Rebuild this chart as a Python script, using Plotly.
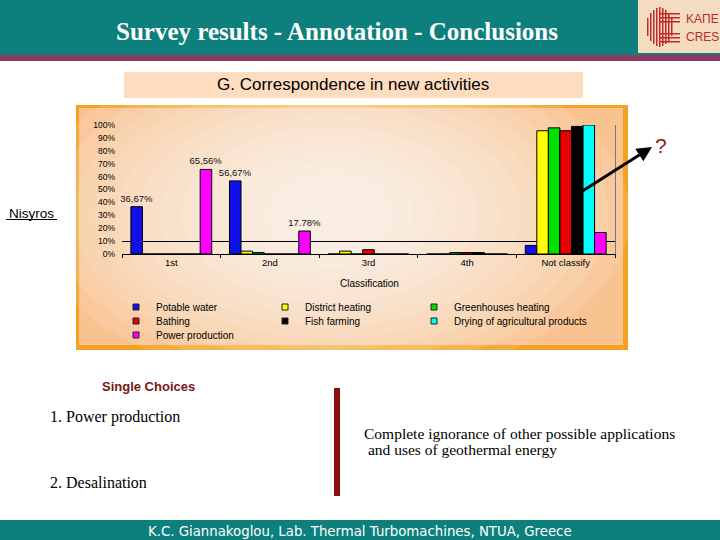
import plotly.graph_objects as go

# ---------------- data ----------------
categories = ["1st", "2nd", "3rd", "4th", "Not classify"]
series_names = ["Potable water", "District heating", "Greenhouses heating",
                "Bathing", "Fish farming", "Drying of agricultural products",
                "Power production"]
potable_water = [36.67, 56.67, 0, 0, 6.67]
district_heating = [0, 2.22, 2.22, 0, 95.56]
greenhouses_heating = [0, 1.11, 0, 1.11, 97.78]
bathing = [0, 0, 3.33, 1.11, 95.56]
fish_farming = [0, 0, 0, 1.11, 98.89]
drying_agri = [0, 0, 0, 0, 100.0]
power_production = [65.56, 17.78, 0, 0, 16.67]
potable_labels = ["36,67%", "56,67%", "", "", ""]
power_labels = ["65,56%", "17.78%", "", "", ""]
y_ticks = [0, 10, 20, 30, 40, 50, 60, 70, 80, 90, 100]
y_ticktext = [f"{v}%" for v in y_ticks]

series_values = [potable_water, district_heating, greenhouses_heating, bathing,
                 fish_farming, drying_agri, power_production]
series_labels = [potable_labels, None, None, None, None, None, power_labels]
colors = ["#1010E8", "#FFFF00", "#00E000", "#E80000", "#000000", "#00FFFF", "#FF00FF"]

# ---------------- geometry helpers (pixels -> paper) ----------------
L, R, T, B = 122, 615, 125, 254
W, H = R - L, B - T


def px(x):
    return (x - L) / W


def py(y):
    return (B - y) / H


fig = go.Figure()

for name, vals, lab, col in zip(series_names, series_values, series_labels, colors):
    fig.add_trace(go.Bar(
        x=categories, y=vals, name=name, showlegend=False,
        marker=dict(color=col, line=dict(color="black", width=1)),
        text=lab if lab else None, textposition="outside",
        constraintext="none", cliponaxis=False,
        textfont=dict(family="Liberation Sans, Arial", size=9.5, color="#111111"),
    ))

# legend entries (small square keys), each in its own legend box laid out 3 per row
legend_ids = ["legend"] + [f"legend{i}" for i in range(2, len(series_names) + 1)]
for name, col, lg in zip(series_names, colors, legend_ids):
    fig.add_trace(go.Scatter(
        x=[None], y=[None], mode="markers", name=name, legend=lg,
        marker=dict(symbol="square", size=6, color=col, line=dict(color="#222", width=1)),
        yaxis="y2",
    ))

shapes = []
# chart frame (orange border, peach fill)
shapes.append(dict(type="rect", xref="paper", yref="paper", layer="below",
                   x0=px(76), x1=px(628), y0=py(105), y1=py(350),
                   fillcolor="#F5A020", line=dict(width=0)))
shapes.append(dict(type="rect", xref="paper", yref="paper", layer="below",
                   x0=px(79), x1=px(623), y0=py(108), y1=py(345),
                   fillcolor="#F9C391", line=dict(width=0)))
cx, cy = 330, 215
for k in range(12):
    f = 1 - k / 12
    rx, ry = 40 + 260 * f, 30 + 140 * f
    shapes.append(dict(type="circle", xref="paper", yref="paper", layer="below",
                       x0=px(cx - rx), x1=px(cx + rx), y0=py(cy - ry), y1=py(cy + ry),
                       fillcolor="white", opacity=0.11, line=dict(width=0)))
# header band
shapes.append(dict(type="rect", xref="paper", yref="paper", layer="below",
                   x0=px(0), x1=px(720), y0=py(0), y1=py(55),
                   fillcolor="#0D7F7C", line=dict(width=0)))
shapes.append(dict(type="rect", xref="paper", yref="paper", layer="below",
                   x0=px(0), x1=px(720), y0=py(55), y1=py(61),
                   fillcolor="#8E3862", line=dict(width=0)))
# logo box
shapes.append(dict(type="rect", xref="paper", yref="paper", layer="below",
                   x0=px(638), x1=px(720), y0=py(0), y1=py(53),
                   fillcolor="#F3DCC0", line=dict(width=0)))
for x0, h in [(647, 9), (650, 14), (653, 17), (656, 19), (659, 20), (662, 19), (665, 17), (668, 14), (671, 9)]:
    shapes.append(dict(type="rect", xref="paper", yref="paper", layer="above",
                       x0=px(x0), x1=px(x0 + 1.5), y0=py(27 - h), y1=py(27 + h),
                       fillcolor="#C0282A", line=dict(width=0)))
for y0 in [13, 17, 21, 33, 37, 41]:
    shapes.append(dict(type="rect", xref="paper", yref="paper", layer="above",
                       x0=px(660), x1=px(680), y0=py(y0), y1=py(y0 + 1.5),
                       fillcolor="#C0282A", line=dict(width=0)))
# subtitle box
shapes.append(dict(type="rect", xref="paper", yref="paper", layer="below",
                   x0=px(124), x1=px(583), y0=py(72), y1=py(98),
                   fillcolor="#FDDCBF", line=dict(width=0)))
# vertical separator
shapes.append(dict(type="rect", xref="paper", yref="paper", layer="below",
                   x0=px(334), x1=px(340), y0=py(388), y1=py(496),
                   fillcolor="#8B0E0E", line=dict(width=0)))
# footer band
shapes.append(dict(type="rect", xref="paper", yref="paper", layer="below",
                   x0=px(0), x1=px(720), y0=py(520), y1=py(540),
                   fillcolor="#0D7F7C", line=dict(width=0)))
# underline for Nisyros
shapes.append(dict(type="line", xref="paper", yref="paper",
                   x0=px(6), x1=px(57), y0=py(219.5), y1=py(219.5),
                   line=dict(color="black", width=1)))

serif = "Liberation Serif, Times New Roman, serif"
sans = "Liberation Sans, Arial, sans-serif"
annotations = [
    dict(text="<b>Survey results - Annotation - Conclusions</b>", x=px(337), y=py(31),
         font=dict(family=serif, size=25, color="white")),
    dict(text="ΚΑΠΕ", x=px(702), y=py(19), font=dict(family=sans, size=12, color="#C0282A")),
    dict(text="CRES", x=px(702), y=py(37), font=dict(family=sans, size=12, color="#C0282A")),
    dict(text="G. Correspondence in new activities", x=px(353), y=py(85),
         font=dict(family=sans, size=17, color="black")),
    dict(text="Nisyros", x=px(31), y=py(213), font=dict(family=sans, size=13.5, color="black")),
    dict(text="Classification", x=px(369), y=py(283), font=dict(family=sans, size=10, color="black")),
    dict(text="?", x=px(661), y=py(145), font=dict(family=sans, size=21, color="#8B1A1A")),
    dict(text="<b>Single Choices</b>", x=px(148), y=py(386), font=dict(family=sans, size=13, color="#7A1616")),
    dict(text="1. Power production", x=px(48), y=py(417), xanchor="left",
         font=dict(family=serif, size=16, color="black")),
    dict(text="2. Desalination", x=px(48), y=py(482), xanchor="left",
         font=dict(family=serif, size=16, color="black")),
    dict(text="Complete ignorance of other possible applications",
         x=px(362), y=py(433), xanchor="left", font=dict(family=serif, size=15.5, color="black")),
    dict(text=" and uses of geothermal energy",
         x=px(362), y=py(449), xanchor="left", font=dict(family=serif, size=15.5, color="black")),
    dict(text="K.C. Giannakoglou, Lab. Thermal Turbomachines, NTUA, Greece", x=px(360), y=py(531),
         font=dict(family="DejaVu Sans, sans-serif", size=13.3, color="white")),
]
for a in annotations:
    a.setdefault("xref", "paper")
    a.setdefault("yref", "paper")
    a.setdefault("showarrow", False)
    a.setdefault("xanchor", "center")
    a.setdefault("yanchor", "middle")

# arrow pointing out of the chart
annotations.append(dict(xref="paper", yref="paper", x=px(652), y=py(147), ax=-82, ay=52,
                        showarrow=True, arrowhead=2, arrowsize=1, arrowwidth=3,
                        arrowcolor="black", text=""))

legend_text_x = [156, 305, 454]
legend_row_y = [307, 321, 335]
legend_layout = {}
for i, lg in enumerate(legend_ids):
    col, row = i % 3, i // 3
    legend_layout[lg] = dict(x=px(legend_text_x[col] - 40), y=py(legend_row_y[row]),
                             orientation="h", xanchor="left", yanchor="middle",
                             bgcolor="rgba(0,0,0,0)", tracegroupgap=0,
                             font=dict(family=sans, size=10, color="black"))

fig.update_layout(
    width=720, height=540,
    margin=dict(l=L, r=720 - R, t=T, b=540 - B, pad=0),
    paper_bgcolor="white", plot_bgcolor="rgba(0,0,0,0)",
    barmode="group", bargap=0.18, bargroupgap=0,
    shapes=shapes, annotations=annotations,
    showlegend=True,
    xaxis=dict(showgrid=False, showline=True, linecolor="black", linewidth=1,
               ticks="outside", tickson="boundaries", ticklen=3, tickcolor="black",
               tickfont=dict(family=sans, size=9.5, color="black"), fixedrange=True),
    yaxis=dict(range=[0, 100], tickvals=y_ticks, ticktext=y_ticktext, showgrid=False,
               zeroline=False, showline=False, ticks="", ticklabelstandoff=6,
               tickfont=dict(family=sans, size=8.5, color="black")),
    yaxis2=dict(range=[0, 100], overlaying="y", side="right", tickvals=[10],
                showticklabels=False, showgrid=True, gridcolor="black", gridwidth=1,
                showline=True, linecolor="#777777", linewidth=1, zeroline=False, ticks=""),
    **legend_layout,
)

fig.write_html("out.html", config={"displayModeBar": False},
               post_script="document.body.style.margin='0';document.body.style.overflow='hidden';")
